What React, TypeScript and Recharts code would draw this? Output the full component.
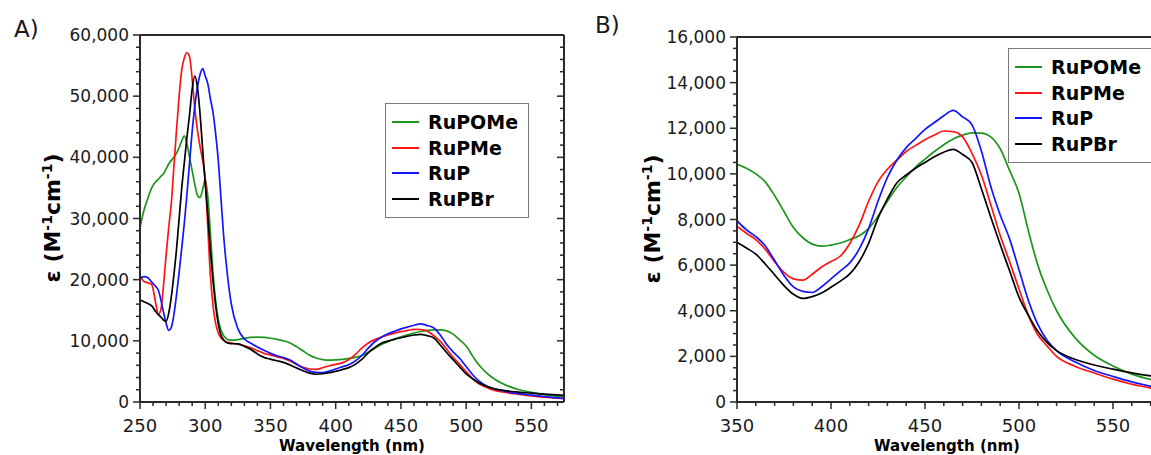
import React from 'react';
import { LineChart, Line, XAxis, YAxis, Legend } from 'recharts';

// ---------- data ----------
const wavelengths = [250, 253, 256, 259, 262, 264, 266, 268, 270, 272, 274, 276, 278, 280, 282, 284, 286, 288, 290, 292, 294, 296, 298, 300, 302, 304, 306, 308, 310, 312, 314, 316, 318, 320, 325, 330, 335, 340, 345, 350, 355, 360, 365, 370, 375, 380, 385, 390, 395, 400, 405, 410, 415, 420, 425, 430, 435, 440, 445, 450, 455, 460, 465, 470, 475, 480, 485, 490, 495, 500, 505, 510, 515, 520, 530, 540, 550, 560, 575];

const ruPOMe = [28500, 31300, 33300, 35000, 36000, 36400, 36900, 37300, 38100, 38900, 39500, 40000, 40700, 41600, 42700, 43500, 42200, 40000, 37800, 35600, 33800, 33400, 34700, 36300, 33500, 27500, 21000, 16500, 13500, 11800, 10900, 10400, 10150, 10100, 10200, 10400, 10550, 10600, 10550, 10420, 10250, 10000, 9650, 9050, 8350, 7650, 7200, 6920, 6830, 6880, 6970, 7120, 7290, 7600, 8150, 8800, 9400, 9870, 10300, 10650, 10980, 11280, 11530, 11700, 11800, 11790, 11620, 11100, 10150, 9150, 7500, 6000, 4900, 4000, 2800, 2050, 1580, 1220, 900];

const ruPMe = [20700, 19700, 19500, 19200, 16200, 14300, 15100, 19000, 24000, 28500, 32500, 38500, 44500, 50000, 54300, 56300, 57100, 56400, 52800, 48000, 44500, 41800, 39500, 36500, 28500, 20500, 15800, 12800, 11300, 10500, 10100, 9850, 9700, 9650, 9450, 9200, 8850, 8400, 7950, 7700, 7400, 7120, 6700, 6150, 5680, 5400, 5340, 5600, 5920, 6160, 6400, 6950, 7750, 8800, 9650, 10200, 10600, 10980, 11250, 11500, 11700, 11880, 11850, 11620, 10900, 9950, 8650, 7300, 6150, 4950, 3800, 2950, 2450, 2000, 1560, 1270, 1000, 780, 540];

const ruP = [20200, 20500, 20300, 19600, 18900, 18300, 16700, 14700, 12900, 11700, 12200, 14300, 17500, 21200, 25200, 29300, 34000, 39200, 44300, 48300, 51500, 53500, 54500, 53300, 52000, 49500, 47300, 43800, 39500, 33500, 27500, 22800, 19000, 16000, 12000, 10300, 9600, 9000, 8450, 7950, 7550, 7250, 6850, 6200, 5550, 5050, 4850, 4800, 5050, 5400, 5750, 6100, 6700, 7600, 8800, 9850, 10600, 11150, 11550, 11950, 12250, 12550, 12780, 12500, 12150, 11000, 9450, 8200, 7150, 5800, 4450, 3400, 2700, 2250, 1750, 1380, 1120, 880, 600];

const ruPBr = [16700, 16400, 16100, 15700, 14800, 14300, 13900, 13400, 13200, 14500, 17200, 20800, 25000, 30000, 35000, 39200, 43300, 47000, 51200, 53300, 51500, 47200, 41400, 35700, 30500, 24700, 19700, 15800, 12800, 11000, 10200, 9750, 9600, 9550, 9500, 9100, 8600, 7850, 7300, 7000, 6750, 6480, 6050, 5580, 5100, 4720, 4540, 4620, 4780, 5030, 5300, 5620, 6150, 6950, 8050, 8900, 9600, 9950, 10250, 10500, 10750, 10950, 11070, 10850, 10500, 9350, 8100, 6900, 5750, 4600, 3800, 3100, 2600, 2250, 1860, 1620, 1440, 1280, 1080];

const seriesNames = ['RuPOMe', 'RuPMe', 'RuP', 'RuPBr'];
const seriesValues = [ruPOMe, ruPMe, ruP, ruPBr];
const seriesColors = ['#1e961e', '#ff1414', '#1414ff', '#000000'];

const panelLabels = ['A)', 'B)'];
const xTitle = 'Wavelength (nm)';

const steps = (a: number, b: number, s: number) => {
  const out: number[] = [];
  for (let v = a; v <= b + 1e-9; v += s) out.push(v);
  return out;
};

const data = wavelengths.map((w, i) => {
  const row: Record<string, number> = { wl: w };
  seriesNames.forEach((n, k) => {
    row[n] = seriesValues[k][i];
  });
  return row;
});

// ---------- style ----------
const FONT = '"DejaVu Sans", Verdana, sans-serif';
const AXIS = '#2a2a2a';
const TXT = '#1a1a1a';

const fmt = (v: number) => v.toLocaleString('en-US');

const makeBottomTick = () => (props: any) => {
  const { x, y, payload } = props;
  const major = payload.value % 50 === 0;
  return (
    <g>
      <line x1={x} y1={y} x2={x} y2={y + (major ? 7 : 4)} stroke={AXIS} strokeWidth={1.5} />
      {major && (
        <text x={x} y={y + 30} textAnchor="middle" fontSize={18} fontFamily={FONT} fill={TXT}>
          {payload.value}
        </text>
      )}
    </g>
  );
};

const makeTopTick = () => (props: any) => {
  const { x, y, payload } = props;
  const major = payload.value % 50 === 0;
  return <line x1={x} y1={y} x2={x} y2={y + (major ? 7 : 4)} stroke={AXIS} strokeWidth={1.5} />;
};

const makeLeftTick = (majorStep: number) => (props: any) => {
  const { x, y, payload } = props;
  const major = payload.value % majorStep === 0;
  return (
    <g>
      <line x1={x} y1={y} x2={x - (major ? 7 : 4)} y2={y} stroke={AXIS} strokeWidth={1.5} />
      {major && (
        <text x={x - 11} y={y} dy="0.36em" textAnchor="end" fontSize={17} fontFamily={FONT} fill={TXT}>
          {fmt(payload.value)}
        </text>
      )}
    </g>
  );
};

const makeRightTick = (majorStep: number) => (props: any) => {
  const { x, y, payload } = props;
  const major = payload.value % majorStep === 0;
  return <line x1={x} y1={y} x2={x - (major ? 7 : 4)} y2={y} stroke={AXIS} strokeWidth={1.5} />;
};

const makeLegend = (padRight: number) => (props: any) => {
  const payload = [...(props.payload || [])].sort(
    (a: any, b: any) => seriesNames.indexOf(a.value) - seriesNames.indexOf(b.value)
  );
  return (
    <div
      style={{
        border: '1.5px solid #7a7a7a',
        background: '#fff',
        padding: `5px ${padRight}px 5px 6px`,
        fontFamily: FONT,
        fontWeight: 'bold',
        fontSize: 19,
        color: '#000',
        whiteSpace: 'nowrap',
      }}
    >
      {payload.map((p: any) => (
        <div key={p.value} style={{ display: 'flex', alignItems: 'center', height: 25.7 }}>
          <svg width={27} height={4} style={{ marginRight: 9, display: 'block' }}>
            <line x1={0} y1={2} x2={27} y2={2} stroke={p.color} strokeWidth={2} />
          </svg>
          <span>{p.value}</span>
        </div>
      ))}
    </div>
  );
};

type PanelProps = {
  left: number;
  width: number;
  margin: { top: number; right: number; bottom: number; left: number };
  xDomain: [number, number];
  xTicks: number[];
  yDomain: [number, number];
  yTicks: number[];
  yMajor: number;
  legendLeft: number;
  legendTop: number;
  legendPadRight: number;
};

// Each axis box is 1px thick; margins below are the plot edges minus that pixel.
function Panel(p: PanelProps) {
  return (
    <div style={{ position: 'absolute', left: p.left, top: 0 }}>
      <LineChart width={p.width} height={455} data={data} margin={p.margin}>
        <XAxis
          xAxisId="x"
          dataKey="wl"
          type="number"
          domain={p.xDomain}
          allowDataOverflow
          ticks={p.xTicks}
          interval={0}
          height={1}
          tickSize={0}
          tickMargin={0}
          tickLine={false}
          axisLine={{ stroke: AXIS, strokeWidth: 2 }}
          tick={makeBottomTick()}
        />
        <XAxis
          xAxisId="top"
          orientation="top"
          type="number"
          domain={p.xDomain}
          allowDataOverflow
          ticks={p.xTicks}
          interval={0}
          height={1}
          tickSize={0}
          tickMargin={0}
          tickLine={false}
          axisLine={{ stroke: AXIS, strokeWidth: 2 }}
          tick={makeTopTick()}
        />
        <YAxis
          yAxisId="y"
          type="number"
          domain={p.yDomain}
          allowDataOverflow
          ticks={p.yTicks}
          interval={0}
          width={1}
          tickSize={0}
          tickMargin={0}
          tickLine={false}
          axisLine={{ stroke: AXIS, strokeWidth: 2 }}
          tick={makeLeftTick(p.yMajor)}
        />
        <YAxis
          yAxisId="right"
          orientation="right"
          type="number"
          domain={p.yDomain}
          allowDataOverflow
          ticks={p.yTicks}
          interval={0}
          width={1}
          tickSize={0}
          tickMargin={0}
          tickLine={false}
          axisLine={{ stroke: AXIS, strokeWidth: 2 }}
          tick={makeRightTick(p.yMajor)}
        />
        <Legend
          layout="vertical"
          align="center"
          verticalAlign="middle"
          wrapperStyle={{ left: p.legendLeft, top: p.legendTop, width: 'auto', height: 'auto' }}
          content={makeLegend(p.legendPadRight)}
        />
        {seriesNames.map((n, k) => (
          <Line
            key={n}
            xAxisId="x"
            yAxisId="y"
            dataKey={n}
            name={n}
            type="monotone"
            stroke={seriesColors[k]}
            strokeWidth={1.7}
            dot={false}
            activeDot={false}
            isAnimationActive={false}
          />
        ))}
      </LineChart>
    </div>
  );
}

function YTitle({ x, y }: { x: number; y: number }) {
  return (
    <text
      x={x}
      y={y}
      transform={`rotate(-90 ${x} ${y})`}
      textAnchor="middle"
      fontFamily={FONT}
      fontWeight="bold"
      fontSize={22}
      fill="#000"
    >
      ε (M
      <tspan dy={-8} fontSize={14}>-1</tspan>
      <tspan dy={8}>cm</tspan>
      <tspan dy={-8} fontSize={14}>-1</tspan>
      <tspan dy={8}>)</tspan>
    </text>
  );
}

export default function App() {
  return (
    <div
      style={{
        position: 'absolute',
        left: 0,
        top: 0,
        width: 1151,
        height: 455,
        overflow: 'hidden',
        background: '#fff',
      }}
    >
      <Panel
        left={0}
        width={600}
        margin={{ top: 34, right: 35, bottom: 52, left: 139 }}
        xDomain={[250, 575]}
        xTicks={steps(250, 570, 10)}
        yDomain={[0, 60000]}
        yTicks={steps(0, 60000, 2000)}
        yMajor={10000}
        legendLeft={385}
        legendTop={103}
        legendPadRight={10}
      />
      <Panel
        left={600}
        width={570}
        margin={{ top: 36, right: 9, bottom: 52, left: 136 }}
        xDomain={[350, 575]}
        xTicks={steps(350, 570, 10)}
        yDomain={[0, 16000]}
        yTicks={steps(0, 16000, 500)}
        yMajor={2000}
        legendLeft={408}
        legendTop={48}
        legendPadRight={20}
      />
      <svg
        width={1151}
        height={455}
        style={{ position: 'absolute', left: 0, top: 0, pointerEvents: 'none' }}
      >
        <text x={14} y={37} fontFamily={FONT} fontSize={23} fill={TXT}>{panelLabels[0]}</text>
        <text x={595} y={33} fontFamily={FONT} fontSize={23} fill={TXT}>{panelLabels[1]}</text>
        <YTitle x={60} y={218} />
        <YTitle x={660} y={219} />
        <text x={352} y={451} textAnchor="middle" fontFamily={FONT} fontWeight="bold" fontSize={15} fill="#000">{xTitle}</text>
        <text x={947} y={451} textAnchor="middle" fontFamily={FONT} fontWeight="bold" fontSize={15} fill="#000">{xTitle}</text>
      </svg>
    </div>
  );
}
